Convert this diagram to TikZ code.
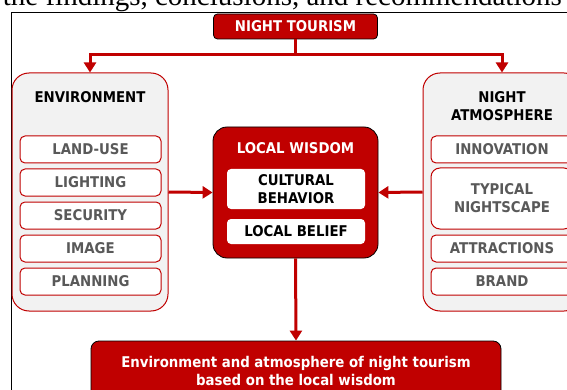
\documentclass[tikz,border=0pt]{standalone}
\usepackage{fontspec}
\setmainfont{DejaVu Sans}[FakeStretch=0.9]
\newfontfamily\hdrserif{Liberation Serif}
\usetikzlibrary{arrows.meta}
\definecolor{dred}{HTML}{C00000}
\definecolor{lgray}{HTML}{F2F2F2}
\definecolor{tgray}{HTML}{595959}
\tikzset{
  lbl/.style={font=\bfseries\fontsize{14.8}{18}\selectfont, inner sep=0pt, align=center},
  redbox/.style={lbl, draw=black, line width=0.8pt, fill=dred, text=white},
  outerbox/.style={draw=dred, line width=1pt, fill=lgray, rounded corners=17pt, inner sep=0pt},
  subbox/.style={lbl, draw=dred, line width=1pt, fill=white, rounded corners=5pt, text=tgray, minimum height=27pt},
  whitebox/.style={lbl, fill=white, rounded corners=4pt, text=black, minimum width=138pt},
  conn/.style={draw=dred, line width=3pt},
  arr/.style={conn, -{Triangle[width=12pt,length=10pt]}}
}
\begin{document}
\begin{tikzpicture}[x=1pt,y=-1pt]
\useasboundingbox (0,0) rectangle (567,390);
\clip (0,0) rectangle (567,390);
\fill[white] (0,0) rectangle (567,390);
% page header text and frame
\node[anchor=base east, inner sep=0pt, font=\hdrserif\fontsize{29}{29}\selectfont] (hdr) at (562,6) {the findings, conclusions, and recommendations};
\draw[black, line width=1pt] (11,392) -- (11,12.5) -- (569,12.5);
% top box
\node[redbox, rounded corners=4pt, minimum width=164pt, minimum height=25pt] (nt) at (295.5,26.5) {NIGHT TOURISM};
% environment
\node[outerbox, minimum width=156pt, minimum height=238pt] (env) at (90,192) {};
\node[lbl] (envt) at (90,97) {ENVIRONMENT};
\node[subbox, minimum width=141pt] (e1) at (90.5,149.5) {LAND-USE};
\node[subbox, minimum width=141pt] (e2) at (90.5,182.5) {LIGHTING};
\node[subbox, minimum width=141pt] (e3) at (90.5,215.5) {SECURITY};
\node[subbox, minimum width=141pt] (e4) at (90.5,248.5) {IMAGE};
\node[subbox, minimum width=141pt] (e5) at (90.5,281.5) {PLANNING};
% night atmosphere
\node[outerbox, minimum width=158pt, minimum height=238pt] (na) at (502,192) {};
\node[lbl] (nat) at (502,106) {NIGHT\\ATMOSPHERE};
\node[subbox, minimum width=142pt] (a1) at (502,149.5) {INNOVATION};
\node[subbox, minimum width=142pt, minimum height=61pt, rounded corners=9pt] (a2) at (502,198.5) {TYPICAL\\NIGHTSCAPE};
\node[subbox, minimum width=142pt] (a3) at (502,248.5) {ATTRACTIONS};
\node[subbox, minimum width=142pt] (a4) at (502,281.5) {BRAND};
% local wisdom
\node[redbox, rounded corners=14pt, minimum width=165pt, minimum height=131pt] (lw) at (295.5,192.5) {};
\node[lbl, text=white] (lwt) at (295.5,148) {LOCAL WISDOM};
\node[whitebox, minimum height=40pt] (cb) at (296,189) {CULTURAL\\BEHAVIOR};
\node[whitebox, minimum height=25pt] (lb) at (296,231.5) {LOCAL BELIEF};
% result
\node[redbox, rounded corners=8pt, minimum width=410pt, minimum height=80pt] (res) at (296,381) {};
\node[lbl, text=white] (rest) at (296,371) {Environment and atmosphere of night tourism\\based on the local wisdom};
% connectors
\coordinate (j) at (295.5,55);
\draw[conn] (nt.south) -- (j);
\draw[arr] (j) -| (env.north);
\draw[arr] (j) -| (na.north);
\draw[arr] (env.east) -- (lw.west);
\draw[arr] (na.west) -- (lw.east);
\draw[arr] (lw.south) -- (res.north);
\end{tikzpicture}
\end{document}
